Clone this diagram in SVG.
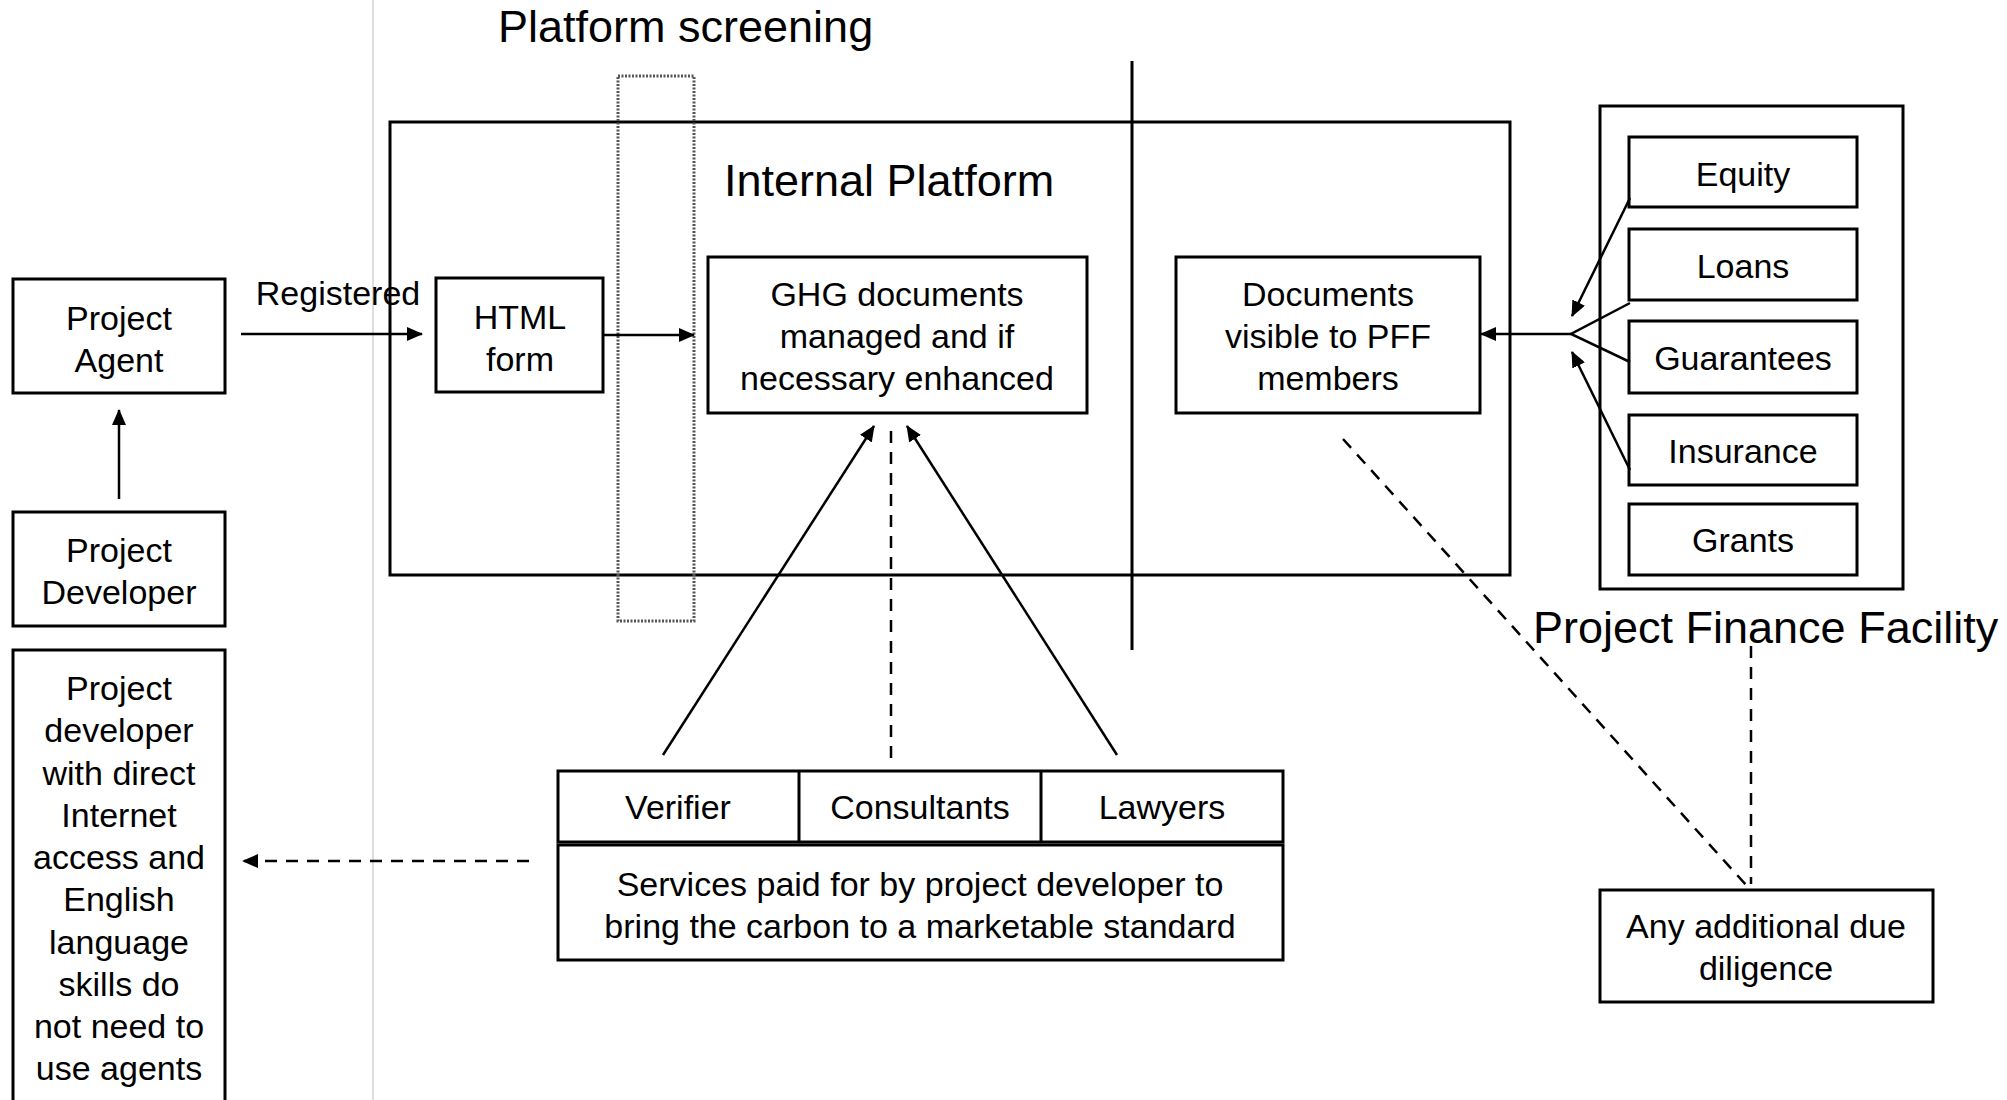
<svg xmlns="http://www.w3.org/2000/svg" width="2007" height="1100" viewBox="0 0 2007 1100">
<defs>
<marker id="ah" markerUnits="userSpaceOnUse" markerWidth="16" markerHeight="14" refX="15" refY="7" orient="auto">
<path d="M0,0 L16,7 L0,14 z" fill="#000"/>
</marker>
<style>
.box{fill:#fff;stroke:#000;stroke-width:3}
.t{font-family:"Liberation Sans",Arial,sans-serif;font-size:34px;fill:#000;text-anchor:middle}
.h{font-family:"Liberation Sans",Arial,sans-serif;font-size:45px;fill:#000}
.ln{stroke:#000;stroke-width:2.5;fill:none}
.dash{stroke:#000;stroke-width:2.5;fill:none;stroke-dasharray:12 9}
</style>
</defs>
<rect width="2007" height="1100" fill="#fff"/>
<line x1="373" y1="0" x2="373" y2="1100" stroke="#ddd" stroke-width="2"/>

<g id="internal-platform">
<rect x="390" y="122" width="1120" height="453" fill="none" stroke="#000" stroke-width="3"/>
<text class="h" x="724" y="196">Internal Platform</text>
</g>
<g id="divider"><line x1="1132" y1="61" x2="1132" y2="650" stroke="#000" stroke-width="3"/></g>
<g id="platform-screening">
<rect x="618" y="76" width="76" height="545" fill="none" stroke="#555" stroke-width="3" stroke-dasharray="2 1.5"/>
<text class="h" x="498" y="42">Platform screening</text>
</g>

<g id="project-agent"><rect class="box" x="13" y="279" width="212" height="114"/>
<text class="t" x="119" y="330">Project</text><text class="t" x="119" y="372">Agent</text></g>
<g id="project-developer"><rect class="box" x="13" y="512" width="212" height="114"/>
<text class="t" x="119" y="562">Project</text><text class="t" x="119" y="604">Developer</text></g>
<g id="direct-developer"><rect class="box" x="13" y="650" width="212" height="470"/>
<text class="t" x="119" y="700">Project</text>
<text class="t" x="119" y="742">developer</text>
<text class="t" x="119" y="785">with direct</text>
<text class="t" x="119" y="827">Internet</text>
<text class="t" x="119" y="869">access and</text>
<text class="t" x="119" y="911">English</text>
<text class="t" x="119" y="954">language</text>
<text class="t" x="119" y="996">skills do</text>
<text class="t" x="119" y="1038">not need to</text>
<text class="t" x="119" y="1080">use agents</text></g>

<g id="html-form"><rect class="box" x="436" y="278" width="167" height="114"/>
<text class="t" x="520" y="329">HTML</text><text class="t" x="520" y="371">form</text></g>
<g id="ghg"><rect class="box" x="708" y="257" width="379" height="156"/>
<text class="t" x="897" y="306">GHG documents</text>
<text class="t" x="897" y="348">managed and if</text>
<text class="t" x="897" y="390">necessary enhanced</text></g>
<g id="documents"><rect class="box" x="1176" y="257" width="304" height="156"/>
<text class="t" x="1328" y="306">Documents</text>
<text class="t" x="1328" y="348">visible to PFF</text>
<text class="t" x="1328" y="390">members</text></g>

<g id="pff">
<rect class="box" x="1600" y="106" width="303" height="483"/>
<text class="h" x="1533" y="643">Project Finance Facility</text>
</g>
<g id="equity"><rect class="box" x="1629" y="137" width="228" height="70"/><text class="t" x="1743" y="186">Equity</text></g>
<g id="loans"><rect class="box" x="1629" y="229" width="228" height="71"/><text class="t" x="1743" y="278">Loans</text></g>
<g id="guarantees"><rect class="box" x="1629" y="321" width="228" height="72"/><text class="t" x="1743" y="370">Guarantees</text></g>
<g id="insurance"><rect class="box" x="1629" y="415" width="228" height="70"/><text class="t" x="1743" y="463">Insurance</text></g>
<g id="grants"><rect class="box" x="1629" y="504" width="228" height="71"/><text class="t" x="1743" y="552">Grants</text></g>

<g id="services-row">
<rect class="box" x="558" y="771" width="725" height="71"/>
<line x1="799" y1="771" x2="799" y2="842" stroke="#000" stroke-width="3"/>
<line x1="1041" y1="771" x2="1041" y2="842" stroke="#000" stroke-width="3"/>
<text class="t" x="678" y="819">Verifier</text>
<text class="t" x="920" y="819">Consultants</text>
<text class="t" x="1162" y="819">Lawyers</text>
</g>
<g id="services"><rect class="box" x="558" y="845" width="725" height="115"/>
<text class="t" x="920" y="896">Services paid for by project developer to</text>
<text class="t" x="920" y="938">bring the carbon to a marketable standard</text></g>

<g id="due-diligence"><rect class="box" x="1600" y="890" width="333" height="112"/>
<text class="t" x="1766" y="938">Any additional due</text>
<text class="t" x="1766" y="980">diligence</text></g>

<g id="connectors">
<text class="t" x="338" y="305">Registered</text>
<line class="ln" x1="241" y1="334" x2="422" y2="334" marker-end="url(#ah)"/>
<line class="ln" x1="603" y1="335" x2="694" y2="335" marker-end="url(#ah)"/>
<line class="ln" x1="119" y1="499" x2="119" y2="410" marker-end="url(#ah)"/>
<line class="dash" x1="529" y1="861" x2="243" y2="861" marker-end="url(#ah)"/>
<line class="ln" x1="663" y1="755" x2="874" y2="426" marker-end="url(#ah)"/>
<line class="ln" x1="1117" y1="755" x2="907" y2="426" marker-end="url(#ah)"/>
<line class="dash" x1="891" y1="758" x2="891" y2="426"/>
<line class="ln" x1="1571" y1="334" x2="1481" y2="334" marker-end="url(#ah)"/>
<polyline class="ln" points="1630,303 1571,334 1630,362"/>
<line class="ln" x1="1630" y1="198" x2="1572" y2="316" marker-end="url(#ah)"/>
<line class="ln" x1="1630" y1="470" x2="1572" y2="352" marker-end="url(#ah)"/>
<line class="dash" x1="1343" y1="439" x2="1747" y2="886"/>
<line class="dash" x1="1751" y1="646" x2="1751" y2="884"/>
</g>
</svg>
